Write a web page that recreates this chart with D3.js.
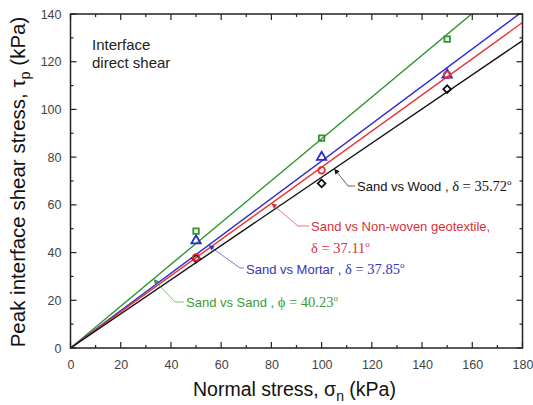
<!DOCTYPE html>
<html>
<head>
<meta charset="utf-8">
<script src="https://cdn.jsdelivr.net/npm/d3@7"></script>
<style>
  html, body { margin: 0; padding: 0; background: #fff; }
  svg { display: block; }
  text { font-family: "Liberation Sans", Arial, sans-serif; }
  .serif { font-family: "Liberation Serif", "Times New Roman", serif; }
</style>
</head>
<body>
<svg id="chart" width="533" height="405"></svg>
<script>
// Normal stress levels used in the interface direct shear tests (kPa)
const normalStress = [50, 100, 150];

// Peak interface shear stress for each interface (kPa)
const sandSand   = [49.0, 88.0, 129.5];
const sandMortar = [45.0, 80.0, 114.5];
const sandGeotex = [38.0, 74.5, 114.5];
const sandWood   = [37.5, 69.0, 108.5];

// Friction / interface angles quoted in the labels (degrees)
const angleLabels = ["40.23", "37.85", "37.11", "35.72"];
const seriesNames = ["Sand vs Sand", "Sand vs Mortar", "Sand vs Non-woven geotextile,", "Sand vs Wood"];
const angleSymbols = ["\u03d5", "\u03b4", "\u03b4", "\u03b4"];

// Axis ticks
const xTicks = [0, 20, 40, 60, 80, 100, 120, 140, 160, 180];
const yTicks = [0, 20, 40, 60, 80, 100, 120, 140];

const series = [
  { values: sandSand,   color: "#2f952f", text: "#3a9a3a", shape: "square" },
  { values: sandMortar, color: "#2a2ad0", text: "#3535b5", shape: "triangle" },
  { values: sandGeotex, color: "#e8302f", text: "#d8303a", shape: "circle" },
  { values: sandWood,   color: "#111111", text: "#111111", shape: "diamond" }
];

// Failure envelope through the origin: least-squares slope of tau = k * sigma
series.forEach(s => {
  const sxy = d3.sum(normalStress, (v, i) => v * s.values[i]);
  const sxx = d3.sum(normalStress, v => v * v);
  s.slope = sxy / sxx;
});

const svg = d3.select("#chart");
const padL = 70.5, padR = 522.5, padT = 14, padB = 348;
const x = d3.scaleLinear().domain([0, 180]).range([padL, padR]);
const y = d3.scaleLinear().domain([0, 140]).range([padB, padT]);

svg.append("defs").append("clipPath").attr("id", "plotClip")
  .append("rect").attr("x", padL).attr("y", padT)
  .attr("width", padR - padL).attr("height", padB - padT);

// Envelope lines
const plot = svg.append("g").attr("clip-path", "url(#plotClip)");
series.forEach(s => {
  plot.append("line")
    .attr("x1", x(0)).attr("y1", y(0))
    .attr("x2", x(180)).attr("y2", y(180 * s.slope))
    .attr("stroke", s.color).attr("stroke-width", 1.4);
});

// Measured points: wood, mortar, geotextile, sand (later ones sit on top)
const symbolType = {
  square: d3.symbolSquare, triangle: d3.symbolTriangle,
  circle: d3.symbolCircle, diamond: d3.symbolSquare
};
const symbolSize = { square: 30, triangle: 38, circle: 34, diamond: 30 };
const symbolRot = { square: 0, triangle: 0, circle: 0, diamond: 45 };
[3, 1, 2, 0].forEach(k => {
  const s = series[k];
  svg.append("g").selectAll("path").data(normalStress).join("path")
    .attr("transform", (d, i) => `translate(${x(d)},${y(s.values[i])}) rotate(${symbolRot[s.shape]})`)
    .attr("d", d3.symbol().type(symbolType[s.shape]).size(symbolSize[s.shape]))
    .attr("fill", "none").attr("stroke", s.color).attr("stroke-width", 1.8);
});

// Frame with inward ticks on all four sides
const axisColor = "#222";
const xMinor = d3.range(0, 181, 10);
const yMinor = d3.range(0, 141, 10);

const axB = svg.append("g").attr("transform", `translate(0,${padB})`)
  .call(d3.axisBottom(x).tickValues(xTicks).tickSize(0).tickPadding(12));
const axL = svg.append("g").attr("transform", `translate(${padL},0)`)
  .call(d3.axisLeft(y).tickValues(yTicks).tickSize(0).tickPadding(9));
[axB, axL].forEach(a => {
  a.select(".domain").remove();
  a.selectAll("text").attr("font-size", 12.5).attr("fill", "#444")
    .attr("font-family", "Liberation Sans, Arial, sans-serif");
});

const ticks = svg.append("g").attr("stroke", axisColor).attr("stroke-width", 1.2);
xMinor.forEach(v => {
  const len = v % 20 === 0 ? 6 : 3;
  ticks.append("line").attr("x1", x(v)).attr("x2", x(v)).attr("y1", padB).attr("y2", padB - len);
  ticks.append("line").attr("x1", x(v)).attr("x2", x(v)).attr("y1", padT).attr("y2", padT + len);
});
yMinor.forEach(v => {
  const len = v % 20 === 0 ? 6 : 3;
  ticks.append("line").attr("y1", y(v)).attr("y2", y(v)).attr("x1", padL).attr("x2", padL + len);
  ticks.append("line").attr("y1", y(v)).attr("y2", y(v)).attr("x1", padR).attr("x2", padR - len);
});
svg.append("rect").attr("x", padL).attr("y", padT)
  .attr("width", padR - padL).attr("height", padB - padT)
  .attr("fill", "none").attr("stroke", axisColor).attr("stroke-width", 1.5);

// Axis titles
const xt = svg.append("text").attr("x", (padL + padR) / 2 - 2).attr("y", 396)
  .attr("text-anchor", "middle").attr("font-size", 19.5).attr("fill", "#111");
xt.append("tspan").text("Normal stress, \u03c3");
xt.append("tspan").attr("font-size", 14).attr("dy", 5).text("n");
xt.append("tspan").attr("dy", -5).text(" (kPa)");

const yt = svg.append("text").attr("transform", "translate(25,182) rotate(-90)")
  .attr("text-anchor", "middle").attr("font-size", 20.5).attr("fill", "#111");
yt.append("tspan").text("Peak interface shear stress, \u03c4");
yt.append("tspan").attr("font-size", 14.5).attr("dy", 5).text("p");
yt.append("tspan").attr("dy", -5).text(" (kPa)");

// Test description
const note = svg.append("text").attr("font-size", 15).attr("fill", "#222");
note.append("tspan").attr("x", 92).attr("y", 50).text("Interface");
note.append("tspan").attr("x", 92).attr("y", 68).text("direct shear");

// Leader-line annotations: anchor on the envelope (kPa), elbow and text in pixels
const notes = [
  { k: 0, at: 33,  elbow: [175, 302], tx: 186, ty: 307 },
  { k: 1, at: 55,  elbow: [240, 268], tx: 246, ty: 273.5 },
  { k: 2, at: 80,  elbow: [298, 226], tx: 311, ty: 231 },
  { k: 3, at: 105, elbow: [348, 186], tx: 357, ty: 191 }
];
notes.forEach(n => {
  const s = series[n.k];
  const px = x(n.at), py = y(n.at * s.slope);
  svg.append("polyline")
    .attr("points", [[px + 1, py + 1], n.elbow, [n.tx - 2, n.elbow[1]]].map(p => p.join(",")).join(" "))
    .attr("fill", "none").attr("stroke", s.text).attr("stroke-opacity", 0.65).attr("stroke-width", 1);
  // small arrowhead touching the line
  const ang = Math.atan2(n.elbow[1] - py, n.elbow[0] - px);
  const a1 = ang + 0.45, a2 = ang - 0.45, L = 6;
  svg.append("path")
    .attr("d", `M${px},${py}L${px + L * Math.cos(a1)},${py + L * Math.sin(a1)}L${px + L * Math.cos(a2)},${py + L * Math.sin(a2)}Z`)
    .attr("fill", s.text);

  const t = svg.append("text").attr("x", n.tx).attr("y", n.ty).attr("font-size", 13).attr("fill", s.text);
  t.append("tspan").text(seriesNames[n.k]);
  let t2 = t;
  if (n.k === 2) {
    t2 = svg.append("text").attr("x", n.tx).attr("y", n.ty + 22).attr("font-size", 13).attr("fill", s.text);
  } else {
    t.append("tspan").text(" , ");
  }
  t2.append("tspan").attr("class", "serif").attr("font-size", 14.5)
    .text(`${angleSymbols[n.k]} = ${angleLabels[n.k]}`);
  t2.append("tspan").attr("class", "serif").attr("font-size", 9).attr("dy", -6).text("o");
});
</script>
</body>
</html>
